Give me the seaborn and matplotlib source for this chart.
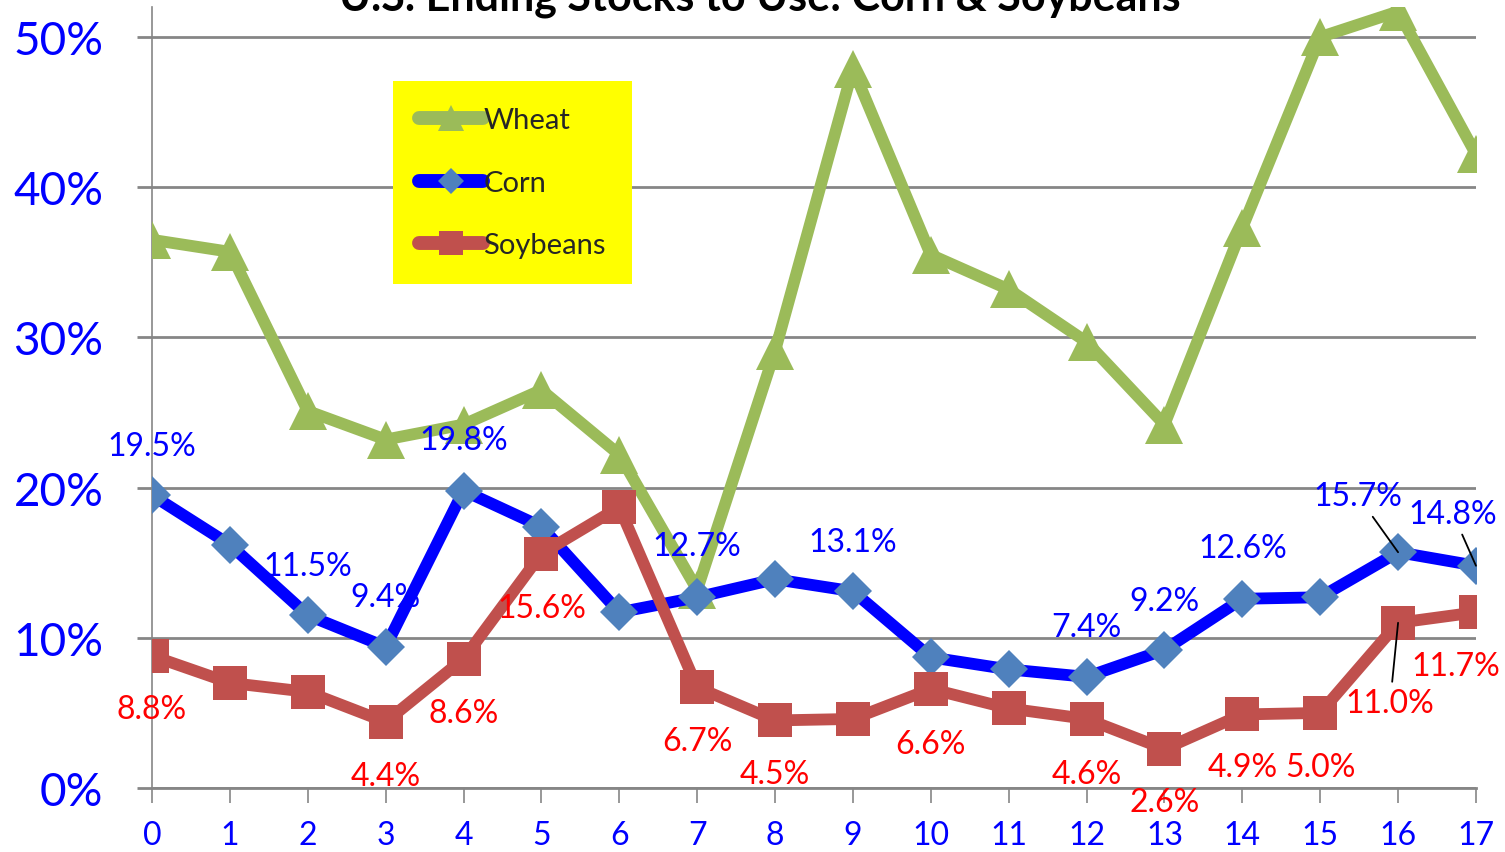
import pandas as pd
import seaborn as sns
import matplotlib.pyplot as plt
from matplotlib.ticker import PercentFormatter

# data (percent), x = 0..17
years = list(range(18))
wheat = [36.5, 35.7, 25.1, 23.2, 24.2, 26.5, 22.2, 13.2, 29.1, 47.9,
         35.5, 33.2, 29.7, 24.2, 37.3, 50.0, 51.7, 42.2]
corn = [19.5, 16.2, 11.5, 9.4, 19.8, 17.4, 11.7, 12.7, 13.9, 13.1,
        8.7, 7.9, 7.4, 9.2, 12.6, 12.7, 15.7, 14.8]
soy = [8.8, 7.0, 6.4, 4.4, 8.6, 15.6, 18.7, 6.7, 4.5, 4.6,
       6.6, 5.3, 4.6, 2.6, 4.9, 5.0, 11.0, 11.7]

# which points carry a label, and the label offset (pixels)
corn_labels = {0: (0, 49), 2: (0, 49), 3: (0, 50), 4: (0, 51), 7: (0, 51), 9: (0, 49),
               12: (0, 50), 13: (0, 49), 14: (0, 51), 16: (-40, 56), 17: (-23, 52)}
soy_labels = {0: (0, -53), 3: (0, -54), 4: (0, -54), 5: (0, -54), 7: (0, -54), 8: (0, -54),
              10: (0, -55), 12: (0, -55), 13: (0, -53), 14: (0, -53), 15: (0, -54),
              16: (-8, -80), 17: (-20, -54)}
leaders = {("corn", 16), ("corn", 17), ("soy", 16)}

df = pd.DataFrame({"x": years, "Wheat": wheat, "Corn": corn, "Soybeans": soy})

sns.set_style("white")
plt.rcParams['font.family'] = ['Lato', 'DejaVu Sans']

fig = plt.figure(figsize=(15.05, 8.53), dpi=100)
ax = fig.add_axes([0.101, 0.075, 0.8797, 0.9156])

sns.lineplot(data=df, x="x", y="Wheat", ax=ax, color="#9BBB59", lw=8.5, marker="^",
             markersize=27, markeredgewidth=0, label="Wheat", zorder=3)
sns.lineplot(data=df, x="x", y="Corn", ax=ax, color="#0000FF", lw=8.5, marker="D",
             markersize=19, markerfacecolor="#4F81BD", markeredgewidth=0, label="Corn", zorder=4)
sns.lineplot(data=df, x="x", y="Soybeans", ax=ax, color="#C0504D", lw=8.5, marker="s",
             markersize=24, markeredgewidth=0, label="Soybeans", zorder=5)

for name, vals, labs, col in [("corn", corn, corn_labels, "#0000FF"), ("soy", soy, soy_labels, "#FF0000")]:
    for i, (dx, dy) in labs.items():
        arrow = None
        if (name, i) in leaders:
            arrow = dict(arrowstyle="-", color="black", lw=1.3, shrinkA=2, shrinkB=0)
        ax.annotate(f"{vals[i]:.1f}%", xy=(years[i], vals[i]), xytext=(dx, dy),
                    textcoords="offset pixels", ha="center", va="center",
                    fontsize=23, color=col, arrowprops=arrow, zorder=6)

ax.set_xlim(0, 17)
ax.set_ylim(0, 52)
ax.set_xticks(years)
ax.set_yticks([0, 10, 20, 30, 40, 50])
ax.yaxis.set_major_formatter(PercentFormatter(decimals=0))
ax.grid(axis="y", color="#868686", lw=2)
ax.tick_params(axis="x", colors="#868686", labelcolor="#0000FF", labelsize=23,
               direction="out", length=11, width=1.2, bottom=True, pad=12)
ax.tick_params(axis="y", colors="#868686", labelcolor="#0000FF", labelsize=33,
               direction="out", length=11, width=2, left=True, pad=24)
ax.set_xlabel("")
ax.set_ylabel("")
for s in ["top", "right"]:
    ax.spines[s].set_visible(False)
ax.spines["left"].set_color("#868686")
ax.spines["bottom"].set_color("#868686")
ax.spines["bottom"].set_linewidth(2)
ax.spines["left"].set_linewidth(1.2)

leg = ax.legend(loc="upper left", bbox_to_anchor=(393 / 1505, 1 - 82 / 853),
                bbox_transform=fig.transFigure, frameon=True, fontsize=21,
                handlelength=2.2, handletextpad=0.0, labelspacing=1.25,
                borderpad=0.9, borderaxespad=0, markerscale=0.7)
leg.get_frame().set_facecolor("#FFFF00")
leg.get_frame().set_edgecolor("none")
leg.get_frame().set_alpha(1)
leg.get_frame().set_boxstyle("square", pad=0)
for h in leg.legend_handles:
    h.set_linewidth(10)
    h.set_solid_capstyle("round")

fig.text(0.505, 1 - 10 / 853, "U.S. Ending Stocks to Use: Corn & Soybeans",
         ha="center", va="baseline", fontsize=31, fontweight="bold", color="black")

fig.savefig("out.png", dpi=100)
